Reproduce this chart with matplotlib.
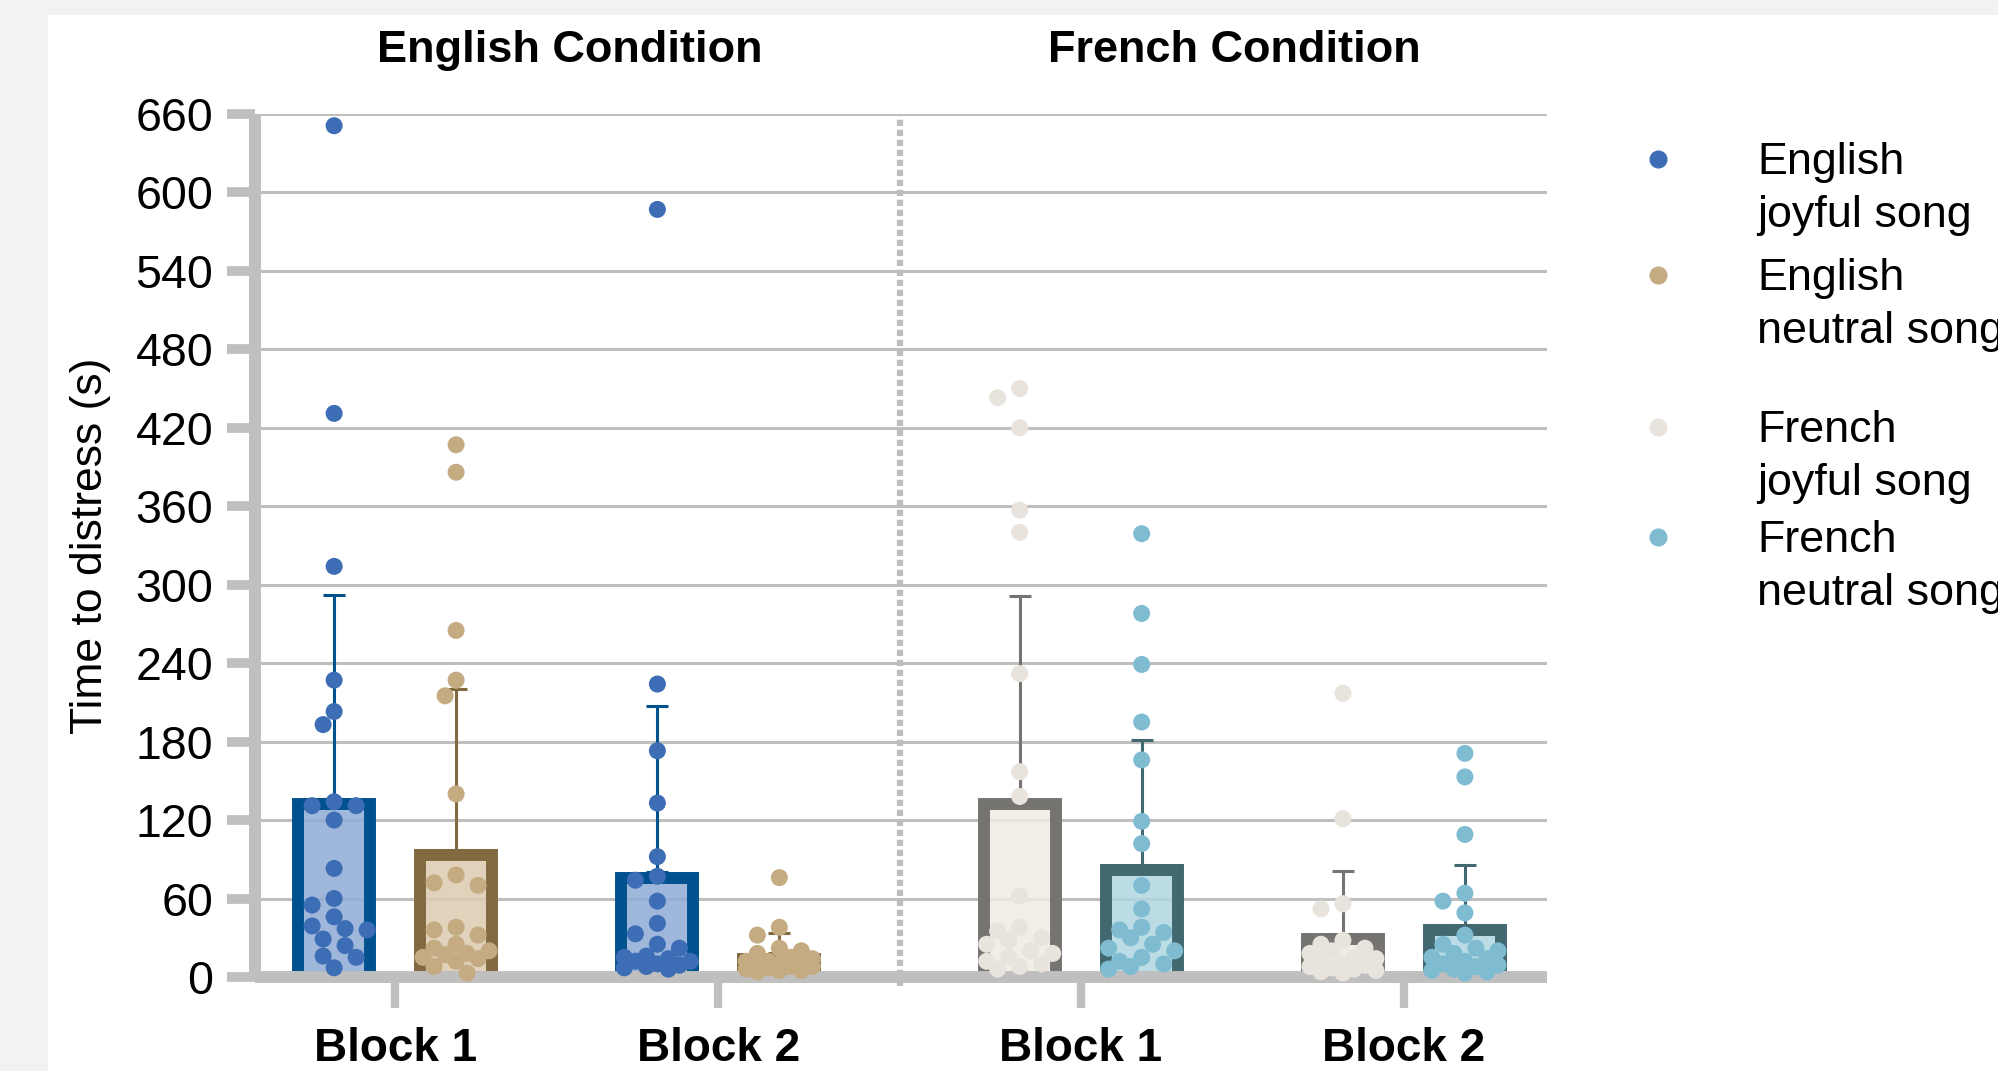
import matplotlib
matplotlib.use("Agg")
import matplotlib.pyplot as plt
from matplotlib.patches import Rectangle
import numpy as np

### DATA (seconds) ###
series_labels = ["English\njoyful song", "English\nneutral song",
                 "French\njoyful song", "French\nneutral song"]
condition_titles = ["English Condition", "French Condition"]
block_labels = ["Block 1", "Block 2", "Block 1", "Block 2"]

eng_joy_b1 = [651, 431, 314, 227, 203, 193, 134, 131, 131, 120, 83, 60, 55, 46, 39, 37, 36, 29, 24, 16, 15, 7]
eng_neu_b1 = [407, 386, 265, 227, 215, 140, 78, 72, 70, 38, 36, 32, 25, 22, 20, 18, 17, 15, 14, 12, 8, 3]
eng_joy_b2 = [587, 224, 173, 133, 92, 77, 74, 58, 41, 33, 25, 22, 16, 15, 14, 12, 12, 10, 9, 8, 7, 6]
eng_neu_b2 = [76, 38, 32, 22, 20, 18, 15, 14, 12, 12, 10, 10, 9, 8, 8, 7, 6, 5, 5, 4]
fre_joy_b1 = [450, 443, 420, 357, 340, 232, 157, 138, 62, 38, 35, 30, 28, 25, 20, 18, 15, 12, 10, 8, 6]
fre_neu_b1 = [339, 278, 239, 195, 166, 119, 102, 70, 52, 38, 36, 34, 30, 25, 22, 20, 15, 12, 10, 8, 6]
fre_joy_b2 = [217, 121, 56, 52, 28, 25, 22, 20, 18, 15, 14, 12, 10, 9, 8, 7, 6, 5, 4, 3]
fre_neu_b2 = [171, 153, 109, 64, 58, 49, 32, 25, 22, 20, 18, 15, 14, 12, 10, 9, 8, 6, 5, 4, 3]

# bar order: EJ B1, EN B1, EJ B2, EN B2, FJ B1, FN B1, FJ B2, FN B2
bar_means = [132, 93, 76, 14, 132, 82, 29, 36]
bar_sds = [160, 127, 131, 20, 159, 99, 52, 50]

### STYLE ###
edge_colours = ["#00528f", "#826a40", "#767470", "#426870"]
fill_colours = ["#8eabd5", "#dccbb0", "#efebe5", "#b0d6e1"]
dot_colours = ["#3d6eb5", "#c4ab82", "#e8e3dd", "#80bcd1"]
grey = "#bfbfbf"

plt.rcParams['font.family'] = ['Liberation Sans', 'DejaVu Sans']

point_sets = [eng_joy_b1, eng_neu_b1, eng_joy_b2, eng_neu_b2,
              fre_joy_b1, fre_neu_b1, fre_joy_b2, fre_neu_b2]
colour_idx = [0, 1, 0, 1, 2, 3, 2, 3]

block_centres = np.array([0, 2.65, 5.62, 8.27])
bar_x = np.repeat(block_centres, 2) + np.tile([-0.5, 0.5], 4)
title_x = [1.43, 6.88]


def swarm_offsets(values, to_px, diam=16, step=11, max_k=3):
    # simple beeswarm: push points sideways until they stop overlapping
    sx, sy = to_px
    placed = []
    offs = []
    order = [0] + [s * k for k in range(1, max_k + 1) for s in (-1, 1)]
    for v in values:
        y = v * sy
        best, best_d = 0, -1
        for k in order:
            x = k * step
            d = min([np.hypot(x - px, y - py) for px, py in placed] or [1e9])
            if d >= diam:
                best = x
                break
            if d > best_d:
                best, best_d = x, d
        placed.append((best, y))
        offs.append(best / sx)
    return np.array(offs)


fig = plt.figure(figsize=(19.99, 10.71), dpi=100, facecolor="#f2f2f2")
fig.add_artist(Rectangle((0.024, 0), 0.976, 0.986, transform=fig.transFigure,
                         facecolor="white", edgecolor="none", zorder=-1))
ax = fig.add_axes([0.1276, 0.0878, 0.6463, 0.8058])
ax.set_xlim(-1.148, 9.443)
ax.set_ylim(0, 660)

# pixel per data unit, used for the swarm
p0 = ax.transData.transform((0, 0))
p1 = ax.transData.transform((1, 1))
to_px = (p1[0] - p0[0], p1[1] - p0[1])

for i in range(8):
    c = colour_idx[i]
    ax.bar(bar_x[i], bar_means[i], width=0.59,
           color=matplotlib.colors.to_rgba(fill_colours[c], 0.85),
           edgecolor=edge_colours[c], linewidth=8.6, zorder=3)
    ax.errorbar(bar_x[i], bar_means[i] + 4, yerr=[[0], [bar_sds[i] - 4]], fmt="none",
                ecolor=edge_colours[c], elinewidth=2.2, capsize=8, capthick=2.2, zorder=4)
    vals = point_sets[i]
    ax.scatter(bar_x[i] + swarm_offsets(vals, to_px), vals, s=150, color=dot_colours[c],
               edgecolors="none", zorder=6, clip_on=False)

# separator between the two conditions
sep_x = (block_centres[1] + block_centres[2]) / 2
ax.axvline(sep_x, ymin=-0.01, ymax=1.0, color="#bdbdbd", linestyle=(0, (1, 0.6)),
           linewidth=4.5, clip_on=False, zorder=2)

# axes styling
ax.set_yticks(np.arange(0, 661, 60))
ax.set_xticks(block_centres)
ax.set_xticklabels(block_labels, fontweight="bold")
ax.yaxis.grid(True, color=grey, linewidth=2.2, zorder=1)
ax.set_axisbelow(True)
for side in ["top", "right"]:
    ax.spines[side].set_visible(False)
for side in ["left", "bottom"]:
    ax.spines[side].set_color(grey)
    ax.spines[side].set_linewidth(8.6)
    ax.spines[side].set_capstyle("butt")
    ax.spines[side].set_zorder(5)
ax.tick_params(axis="y", length=20, width=7, color=grey, pad=10, labelsize=33.5)
ax.tick_params(axis="x", length=22, width=6, color=grey, pad=14, labelsize=33)
ax.set_ylabel("Time to distress (s)", fontsize=32, labelpad=18)

# condition titles
for tx, title in zip(title_x, condition_titles):
    ax.text(tx, 1.073, title, transform=ax.get_xaxis_transform(), ha="center",
            va="center", fontsize=32.5, fontweight="bold")

# legend (marker sits level with the first line of each label)
legend_y = [0.8515, 0.7432, 0.6013, 0.4986]
for c, (ly, lab) in enumerate(zip(legend_y, series_labels)):
    fig.add_artist(plt.Line2D([0.8294], [ly], marker="o", markersize=12, linestyle="none",
                              color=dot_colours[c], transform=fig.transFigure))
    fig.text(0.879, ly - 0.0185, lab, fontsize=32.3, va="center_baseline", ha="left",
             linespacing=1.36)

fig.savefig("out.png", dpi=100, facecolor=fig.get_facecolor())
